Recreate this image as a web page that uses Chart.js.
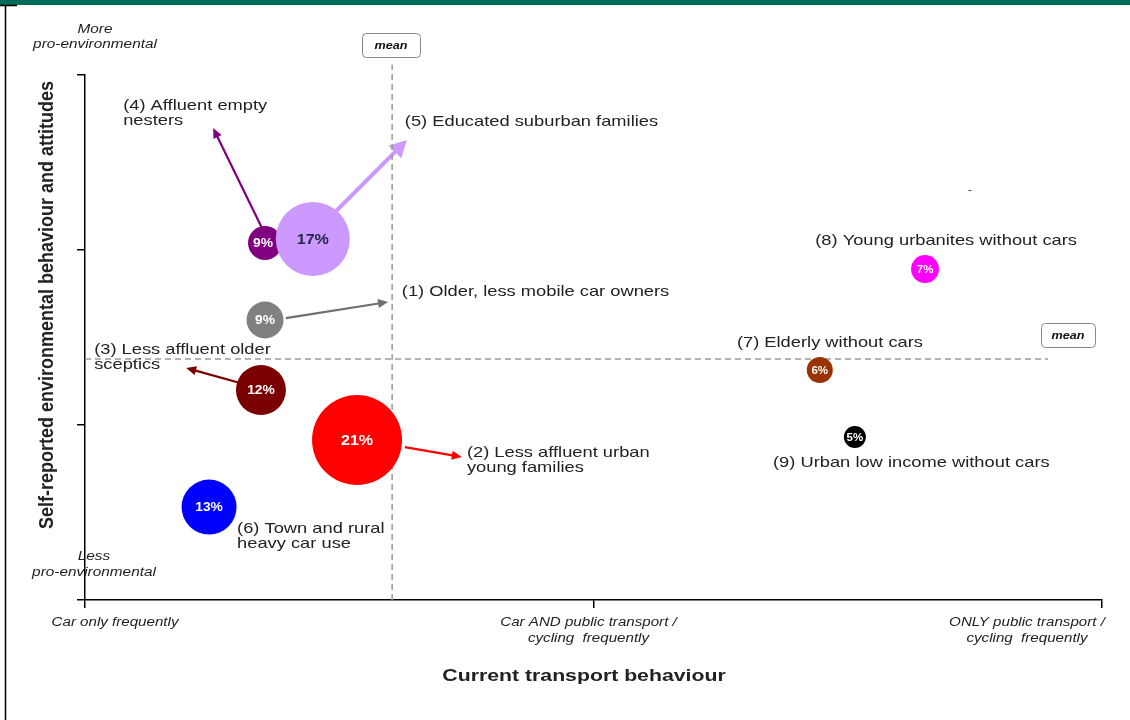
<!DOCTYPE html>
<html>
<head>
<meta charset="utf-8">
<script src="https://cdn.jsdelivr.net/npm/chart.js@4.4.0/dist/chart.umd.min.js"></script>
<style>
  body { margin: 0; background: #fff; }
  #wrap { width: 1130px; height: 720px; position: relative; }
</style>
</head>
<body>
<div id="wrap"><canvas id="segChart" width="1130" height="720"></canvas></div>
<script>
// Segments of the population: transport behaviour (x) vs attitudes (y)
const segmentLabels = [
  ['(1) Older, less mobile car owners'],
  ['(2) Less affluent urban', 'young families'],
  ['(3) Less affluent older', 'sceptics'],
  ['(4) Affluent empty', 'nesters'],
  ['(5) Educated suburban families'],
  ['(6) Town and rural', 'heavy car use'],
  ['(7) Elderly without cars'],
  ['(8) Young urbanites without cars'],
  ['(9) Urban low income without cars']
];
const shares = [9, 21, 12, 9, 17, 13, 6, 7, 5];
const xValues = [0.354, 0.535, 0.346, 0.354, 0.448, 0.244, 1.445, 1.652, 1.514];
const yValues = [1.60, 0.914, 1.20, 2.04, 2.063, 0.531, 1.314, 1.891, 0.931];
const bubbleRadius = [18.5, 45, 25, 17, 37, 27.5, 13, 14, 11];
const colours = ['#808080', '#ff0000', '#7a0000', '#800080', '#cc99ff', '#0000ff', '#993300', '#ff00ff', '#000000'];

// Mean of both axes
const meanX = 0.604;
const meanY = 1.377;

// Arrows showing where each segment tends to (from -> to)
const arrowFrom = [[0.395, 1.611], [0.629, 0.874], [0.305, 1.24], [0.348, 2.126], [0.492, 2.217]];
const arrowTo = [[0.596, 1.703], [0.741, 0.817], [0.199, 1.326], [0.252, 2.697], [0.633, 2.629]];
const arrowSeg = [0, 1, 2, 3, 4];

// Where each segment label sits (data units, left edge / first line middle)
const labelPos = [[0.623, 1.76], [0.751, 0.84], [0.018, 1.429], [0.075, 2.823], [0.629, 2.731],
  [0.299, 0.406], [1.282, 1.469], [1.436, 2.051], [1.353, 0.783]];

const xTickLabels = [['Car only frequently'], ['Car AND public transport /', 'cycling  frequently'], ['ONLY public transport /', 'cycling  frequently']];
const yEndLabels = [['More', 'pro-environmental'], ['Less', 'pro-environmental']];

const FONT = '"Liberation Sans", Arial, sans-serif';
const SX = 1.22; // the original picture is stretched sideways

function text(ctx, t, x, y, sx) {
  ctx.save();
  ctx.translate(x, y);
  ctx.scale(sx || SX, 1);
  ctx.fillText(t, 0, 0);
  ctx.restore();
}

function lines(ctx, arr, x, y, lh, sx) {
  arr.forEach((t, i) => text(ctx, t, x, y + i * lh, sx));
}

function meanBox(ctx, x, y, w, h) {
  ctx.save();
  ctx.strokeStyle = '#888';
  ctx.lineWidth = 1;
  ctx.beginPath();
  ctx.roundRect(x + 0.5, y + 0.5, w, h, 4);
  ctx.stroke();
  ctx.fillStyle = '#111';
  ctx.font = 'italic bold 11px ' + FONT;
  ctx.textAlign = 'center';
  ctx.textBaseline = 'middle';
  text(ctx, 'mean', x + w / 2, y + h / 2 + 1, 1.15);
  ctx.restore();
}

const decor = {
  id: 'decor',
  beforeDraw(chart) {
    const ctx = chart.ctx;
    ctx.save();
    ctx.fillStyle = '#fff';
    ctx.fillRect(0, 0, chart.width, chart.height);
    ctx.fillStyle = '#006b59';
    ctx.fillRect(0, 0, chart.width, 5);
    ctx.strokeStyle = '#000';
    ctx.lineWidth = 1.5;
    ctx.beginPath();
    ctx.moveTo(0, 5.5); ctx.lineTo(17, 5.5);
    ctx.moveTo(5.5, 5); ctx.lineTo(5.5, chart.height);
    ctx.stroke();
    ctx.restore();
  },
  beforeDatasetsDraw(chart) {
    const ctx = chart.ctx, xs = chart.scales.x, ys = chart.scales.y;
    ctx.save();
    arrowFrom.forEach((f, i) => {
      const seg = arrowSeg[i];
      const x1 = xs.getPixelForValue(f[0]), y1 = ys.getPixelForValue(f[1]);
      const x2 = xs.getPixelForValue(arrowTo[i][0]), y2 = ys.getPixelForValue(arrowTo[i][1]);
      const big = seg === 4;
      const col = seg === 0 ? '#707070' : colours[seg];
      const ang = Math.atan2(y2 - y1, x2 - x1);
      const hl = big ? 17 : 10, hw = big ? 9 : 4.5;
      ctx.strokeStyle = col;
      ctx.fillStyle = col;
      ctx.lineWidth = big ? 4 : 2.2;
      ctx.beginPath();
      ctx.moveTo(x1, y1);
      ctx.lineTo(x2 - Math.cos(ang) * hl * 0.8, y2 - Math.sin(ang) * hl * 0.8);
      ctx.stroke();
      ctx.beginPath();
      ctx.moveTo(x2, y2);
      ctx.lineTo(x2 - Math.cos(ang) * hl - Math.sin(ang) * hw, y2 - Math.sin(ang) * hl + Math.cos(ang) * hw);
      ctx.lineTo(x2 - Math.cos(ang) * hl + Math.sin(ang) * hw, y2 - Math.sin(ang) * hl - Math.cos(ang) * hw);
      ctx.closePath();
      ctx.fill();
    });
    ctx.restore();
  },
  afterDatasetsDraw(chart) {
    const ctx = chart.ctx, xs = chart.scales.x, ys = chart.scales.y;
    const meta = chart.getDatasetMeta(0);
    ctx.save();
    ctx.textAlign = 'center';
    ctx.textBaseline = 'middle';
    meta.data.forEach((el, i) => {
      const r = bubbleRadius[i];
      const size = r > 35 ? 14 : (r > 15 ? 12 : 10);
      ctx.font = 'bold ' + size + 'px ' + FONT;
      ctx.fillStyle = i === 4 ? '#25254d' : '#fff';
      text(ctx, shares[i] + '%', el.x - (i === 3 ? 2 : 0), el.y + 1, 1.15);
    });
    // segment labels
    ctx.textAlign = 'left';
    ctx.fillStyle = '#222';
    ctx.font = '15px ' + FONT;
    labelPos.forEach((p, i) => {
      lines(ctx, segmentLabels[i], xs.getPixelForValue(p[0]), ys.getPixelForValue(p[1]), 15);
    });
    ctx.font = '11px ' + FONT;
    ctx.fillText('-', 968, 190);
    ctx.restore();
  },
  afterDraw(chart) {
    const ctx = chart.ctx, xs = chart.scales.x;
    ctx.save();
    meanBox(ctx, 362, 33, 58, 24);
    meanBox(ctx, 1041, 323, 54, 24);
    ctx.fillStyle = '#222';
    ctx.textAlign = 'center';
    ctx.textBaseline = 'middle';
    ctx.font = 'italic 12px ' + FONT;
    // y end labels
    lines(ctx, yEndLabels[0], 95, 30, 15, 1.28);
    lines(ctx, yEndLabels[1], 94, 557, 16, 1.28);
    // x tick labels
    const xl = [xs.getPixelForValue(0) + 30, xs.getPixelForValue(1) - 5, xs.getPixelForValue(2) - 75];
    xTickLabels.forEach((t, i) => lines(ctx, t, xl[i], 623, 16, 1.26));
    // axis titles
    ctx.font = 'bold 17px ' + FONT;
    text(ctx, 'Current transport behaviour', 584, 676, 1.25);
    ctx.translate(47, 305);
    ctx.rotate(-Math.PI / 2);
    ctx.scale(1, 1.15);
    ctx.font = 'bold 18px ' + FONT;
    ctx.fillText('Self-reported environmental behaviour and attitudes', 0, 0);
    ctx.restore();
  }
};

const axisStyle = {
  grid: { drawOnChartArea: false, drawTicks: true, tickLength: 8, color: '#000', lineWidth: 1.5 },
  border: { color: '#000', width: 1.5 },
  ticks: { display: false, stepSize: 1 }
};

new Chart(document.getElementById('segChart'), {
  type: 'bubble',
  data: {
    datasets: [{
      data: xValues.map((x, i) => ({ x: x, y: yValues[i], r: bubbleRadius[i] })),
      backgroundColor: colours,
      borderWidth: 0,
      hoverRadius: 0
    }, {
      type: 'line',
      data: [{ x: meanX, y: 0 }, { x: meanX, y: 3.06 }],
      borderColor: '#9a9a9a', borderWidth: 1.5, borderDash: [6, 4],
      pointRadius: 0, clip: false, order: 1
    }, {
      type: 'line',
      data: [{ x: 0, y: meanY }, { x: 1.894, y: meanY }],
      borderColor: '#9a9a9a', borderWidth: 1.5, borderDash: [6, 4],
      pointRadius: 0, clip: false, order: 1
    }]
  },
  options: {
    responsive: false,
    animation: false,
    events: [],
    layout: { autoPadding: false, padding: { top: 75, right: 28, left: 0, bottom: 0 } },
    plugins: { legend: { display: false }, tooltip: { enabled: false } },
    scales: {
      x: Object.assign({ type: 'linear', min: 0, max: 2, afterFit: s => { s.height = 120; } }, axisStyle),
      y: Object.assign({ type: 'linear', min: 0, max: 3, afterFit: s => { s.width = 85; } }, axisStyle)
    }
  },
  plugins: [decor]
});
</script>
</body>
</html>
